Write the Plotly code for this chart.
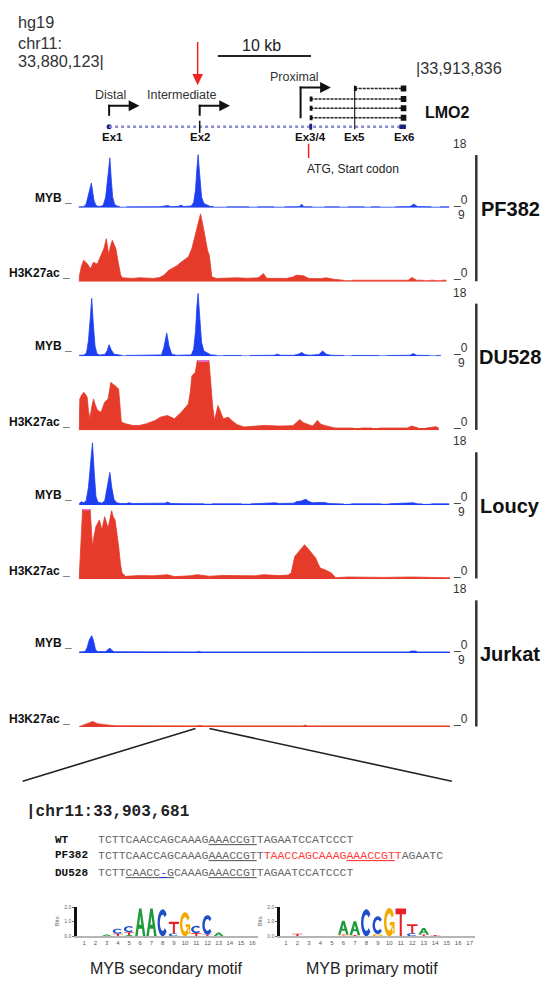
import math
import plotly.graph_objects as go

W, H = 547, 981
SANS = "Liberation Sans, Arial, sans-serif"
MONO = "Liberation Mono, Courier New, monospace"

# ---------------- DATA ----------------
REGION_START = 33880123
REGION_END = 33913836
VIEW_KB = [-2.52, 37.39]          # kb relative to REGION_START

exon_names = ["Ex1", "Ex2", "Ex3/4", "Ex5", "Ex6"]
exon_kb = [0.77, 10.5, 22.4, 27.15, 32.5]
promoter_names = ["Distal", "Intermediate", "Proximal"]
promoter_kb = [0.77, 10.5, 21.34]
promoter_label_kb = [0.9, 8.56, 20.73]
transcript_start_kb = [27.15, 22.4, 22.4, 22.4]
transcript_end_kb = 32.6
red_arrow_kb = 10.28
atg_kb = 22.2
scale_bar_kb = [12.45, 22.45]
zoom_region_kb = [10.05, 11.54]

cell_lines = ["PF382", "DU528", "Loucy", "Jurkat"]
MYB_MAX = 18
H3_MAX = 9

PF382_MYB = [(-2.50, 0.25), (-1.95, 0.3), (-1.70, 1.0), (-1.45, 3.5), (-1.25, 6.0), (-1.14, 7.0), (-1.0, 4.5),
             (-0.85, 2.0), (-0.65, 0.7), (-0.45, 0.4), (-0.1, 0.4), (0.15, 0.8), (0.40, 3.0), (0.62, 8.5),
             (0.85, 14.1), (1.0, 8.0), (1.15, 3.0), (1.35, 1.0), (1.6, 0.5), (1.95, 0.3), (2.2, None),
             (2.65, 0.25), (4.5, 0.25), (6.2, 0.3), (7.1, 0.6), (7.4, 0.3), (8.2, 0.4), (8.5, 0.7), (8.8, 0.35),
             (9.6, 0.5), (9.85, 1.5), (10.05, 5.0), (10.2, 11.0), (10.33, 15.0), (10.48, 10.0), (10.7, 3.0),
             (10.95, 1.2), (11.3, 0.7), (11.6, 0.4), (12.0, 0.3), (12.3, None), (13.4, 0.25), (15.8, 0.25),
             (16.2, None), (16.7, 0.25), (18.5, 0.25), (18.8, None), (19.6, 0.25), (21.2, 0.3), (21.45, 1.0),
             (21.7, 0.3), (22.6, 0.25), (22.9, None), (23.9, 0.25), (25.5, 0.25), (25.8, None), (26.4, 0.25),
             (28.2, 0.25), (28.5, None), (28.9, 0.25), (29.9, 0.25), (30.2, None), (31.5, 0.25), (33.1, 0.35),
             (33.5, 1.0), (33.9, 0.35), (35.4, 0.25), (35.7, None), (36.3, 0.25), (37.3, 0.25)]

PF382_H3K27AC = [(-2.45, 0.0), (-2.41, 0.85), (-2.2, 2.0), (-1.96, 2.77), (-1.75, 2.5), (-1.59, 2.34), (-1.35, 1.9),
                 (-1.21, 1.70), (-1.0, 2.3), (-0.84, 2.55), (-0.65, 2.3), (-0.46, 2.34), (-0.25, 3.0), (-0.09, 3.40),
                 (0.21, 4.26), (0.47, 5.53), (0.6, 4.2), (0.73, 3.40), (0.9, 4.5), (1.11, 5.32), (1.3, 4.8),
                 (1.49, 4.26), (1.7, 2.8), (1.86, 1.70), (2.0, 0.9), (2.16, 0.51), (2.6, 0.45), (3.29, 0.43),
                 (4.03, 0.51), (4.8, 0.45), (5.53, 0.43), (6.2, 0.55), (6.66, 0.85), (7.2, 1.49), (7.78, 1.91),
                 (8.1, 2.1), (8.53, 2.55), (9.0, 2.9), (9.28, 3.19), (9.66, 4.26), (10.03, 5.96), (10.33, 7.23),
                 (10.59, 8.72), (10.78, 7.66), (10.95, 6.5), (11.15, 5.11), (11.35, 4.0), (11.53, 3.40),
                 (11.7, 1.5), (11.8, 0.64), (12.28, 0.43), (13.5, 0.5), (14.53, 0.51), (15.5, 0.45), (16.78, 0.51),
                 (17.1, 0.8), (17.34, 1.06), (17.7, 0.45), (19.8, 0.43), (20.5, 0.6), (20.9, 0.85), (21.3, 0.8),
                 (21.65, 0.77), (22.21, 0.43), (23.5, 0.4), (24.08, 0.51), (25.02, 0.3), (25.96, 0.2), (26.2, None),
                 (26.9, 0.2), (32.9, 0.2), (33.3, 0.55), (33.8, 0.2), (34.5, 0.2), (34.8, None), (35.3, 0.2),
                 (35.7, 0.2), (35.9, None), (36.5, 0.2), (37.0, 0.2)]

DU528_MYB = [(-2.45, 0.3), (-1.9, 0.35), (-1.66, 1.0), (-1.45, 4.5), (-1.25, 11.0), (-1.10, 16.4), (-0.95, 10.0),
             (-0.75, 3.0), (-0.55, 0.8), (-0.3, 0.4), (0.3, 0.5), (0.55, 1.5), (0.77, 3.3), (1.0, 1.8), (1.3, 0.6),
             (1.7, 0.35), (2.1, 0.3), (2.3, None), (2.6, 0.25), (5.5, 0.25), (6.4, 0.4), (6.65, 2.5), (6.96, 6.6),
             (7.2, 3.0), (7.5, 0.6), (8.0, 0.3), (9.6, 0.4), (9.85, 2.0), (10.05, 7.0), (10.2, 14.0),
             (10.33, 17.8), (10.48, 12.0), (10.7, 4.0), (10.95, 1.5), (11.34, 0.8), (11.7, 0.4), (12.3, 0.3),
             (12.5, None), (13.0, 0.25), (15.0, 0.25), (15.3, None), (15.9, 0.25), (18.5, 0.3), (18.84, 0.6),
             (19.2, 0.3), (20.6, 0.3), (21.1, 0.6), (21.46, 1.1), (21.8, 0.5), (22.3, 0.3), (23.3, 0.5),
             (23.71, 1.5), (24.1, 0.6), (24.6, 0.3), (26.0, 0.25), (26.3, None), (26.8, 0.25), (29.8, 0.25),
             (30.1, None), (30.6, 0.25), (33.1, 0.3), (33.45, 0.8), (33.8, 0.3), (35.2, 0.25), (35.5, None),
             (35.9, 0.25), (36.4, 0.25)]

DU528_H3K27AC = [(-2.45, 0.0), (-2.38, 4.04), (-2.15, 4.6), (-1.96, 4.89), (-1.75, 4.6), (-1.59, 4.26), (-1.45, 2.5),
                 (-1.30, 1.49), (-1.1, 3.0), (-0.91, 4.04), (-0.7, 3.2), (-0.46, 2.55), (-0.09, 2.34), (0.29, 3.62),
                 (0.66, 4.04), (0.96, 6.17), (1.2, 5.9), (1.41, 5.74), (1.79, 5.32), (1.95, 2.5), (2.08, 1.06),
                 (2.53, 0.85), (3.29, 0.64), (4.03, 0.64), (4.78, 0.85), (5.72, 1.28), (6.28, 1.70), (7.03, 1.91),
                 (7.4, 1.7), (7.78, 1.49), (8.53, 2.34), (9.28, 3.40), (9.5, 5.0), (9.66, 7.02), (10.03, 7.45),
                 (10.33, 9.6), (11.45, 9.6), (11.72, 5.32), (11.9, 3.0), (12.09, 1.28), (12.3, 2.5), (12.47, 3.19),
                 (12.7, 2.5), (13.03, 1.49), (13.3, 1.6), (13.59, 1.70), (14.0, 1.2), (14.53, 0.72), (15.28, 0.43),
                 (17.5, 0.64), (19.02, 0.55), (20.5, 0.6), (20.9, 1.0), (21.27, 1.40), (21.6, 1.0), (22.0, 0.8),
                 (22.6, 0.55), (22.9, 0.9), (23.14, 1.28), (23.5, 0.8), (23.9, 0.64), (25.02, 0.3), (27.0, 0.3),
                 (27.3, None), (27.8, 0.3), (29.0, 0.3), (29.3, None), (29.8, 0.3), (32.8, 0.3), (33.26, 0.55),
                 (33.7, 0.35), (34.0, 0.3), (34.3, None), (34.8, 0.3), (35.89, 0.47), (36.18, 0.3)]

LOUCY_MYB = [(-2.45, 0.4), (-2.2, 0.9), (-1.95, 0.6), (-1.7, 1.2), (-1.45, 5.0), (-1.25, 12.0), (-1.02, 17.6),
             (-0.85, 10.0), (-0.65, 2.5), (-0.45, 0.8), (0.0, 0.5), (0.3, 1.2), (0.55, 5.0), (0.85, 9.2), (1.05, 5.0),
             (1.3, 1.5), (1.6, 0.6), (2.0, 0.4), (2.6, 0.4), (2.91, 0.6), (3.3, 0.4), (4.5, 0.4), (5.3, 0.5),
             (5.8, 0.3), (6.8, 0.5), (7.03, 0.8), (7.4, 0.4), (8.5, 0.35), (9.5, 0.3), (10.0, 0.45), (11.0, 0.3),
             (11.3, None), (11.8, 0.3), (13.0, 0.3), (14.2, 0.4), (15.0, 0.3), (15.5, None), (16.0, 0.3),
             (17.5, 0.35), (18.65, 0.6), (19.0, 0.4), (20.6, 0.5), (21.0, 1.0), (21.3, 1.0), (21.6, 1.3),
             (21.9, 1.6), (22.2, 1.0), (22.6, 0.6), (23.5, 0.7), (23.9, 0.7), (24.4, 0.4), (25.3, 0.3), (26.0, 0.25),
             (26.3, None), (26.8, 0.3), (30.0, 0.3), (30.3, None), (30.8, 0.3), (33.0, 0.4), (33.45, 0.6),
             (33.9, 0.3), (34.5, 0.25), (34.8, None), (35.4, 0.3), (37.3, 0.3)]

LOUCY_H3K27AC = [(-2.45, 0.0), (-2.35, 3.0), (-2.27, 5.0), (-2.05, 9.6), (-1.3, 9.6), (-1.15, 6.0), (-1.02, 4.17),
                 (-0.85, 5.5), (-0.65, 6.72), (-0.28, 7.57), (-0.01, 6.30), (0.29, 8.0), (0.5, 7.0), (0.66, 6.51),
                 (1.04, 8.77), (1.2, 8.0), (1.41, 7.57), (1.6, 6.0), (1.79, 4.17), (2.0, 1.8), (2.16, 0.77),
                 (2.53, 0.34), (4.03, 0.43), (5.5, 0.4), (7.03, 0.55), (7.78, 0.3), (9.5, 0.4), (10.22, 0.55),
                 (11.53, 0.35), (13.0, 0.45), (14.5, 0.4), (15.28, 0.43), (16.5, 0.4), (17.34, 0.55), (18.5, 0.45),
                 (19.02, 0.43), (20.0, 0.5), (20.33, 0.77), (20.71, 2.89), (21.0, 3.3), (21.27, 3.74), (21.76, 4.38),
                 (22.0, 4.1), (22.4, 3.53), (22.7, 3.1), (22.96, 2.68), (23.2, 2.0), (23.45, 1.40), (24.08, 1.11),
                 (24.65, 0.77), (25.1, 0.17), (26.52, 0.25), (30.26, 0.2), (33.26, 0.25), (37.39, 0.15)]

JURKAT_MYB = [(-2.45, 0.3), (-1.8, 0.4), (-1.6, 1.5), (-1.35, 3.8), (-1.10, 4.9), (-0.9, 3.5), (-0.7, 1.0),
              (-0.5, 0.4), (0.4, 0.4), (0.65, 1.0), (0.85, 1.4), (1.05, 0.8), (1.3, 0.35), (10.1, 0.3),
              (10.41, 0.45), (10.7, 0.3), (13.59, 0.35), (21.5, 0.3), (21.84, 0.5), (22.1, 0.3), (33.0, 0.3),
              (33.2, 0.55), (33.7, 0.55), (33.9, 0.3), (37.39, 0.3)]

JURKAT_H3K27AC = [(-2.45, 0.05), (-2.2, 0.15), (-1.77, 0.3), (-1.4, 0.51), (-1.02, 0.72), (-0.7, 0.55), (-0.46, 0.43),
                  (0.29, 0.3), (1.0, 0.22), (1.41, 0.17), (10.03, 0.15), (10.5, 0.21), (10.9, 0.15), (21.6, 0.15),
                  (21.84, 0.26), (22.1, 0.15), (33.0, 0.15), (33.26, 0.2), (33.5, 0.15), (37.39, 0.15)]

# sequences
seq_labels = ["WT", "PF382", "DU528"]
WT_SEQ = "TCTTCAACCAGCAAAGAAACCGTTAGAATCCATCCCT"
PF382_SEQ = "TCTTCAACCAGCAAAGAAACCGTT" + "TAACCAGCAAAGAAACCGTT" + "AGAATC"
DU528_SEQ = "TCTTCAACC-GCAAAGAAACCGTTAGAATCCATCCCT"
WT_UNDERLINE = [(16, 23)]
PF382_UNDERLINE = [(16, 23), (36, 43)]
PF382_INSERTION = (24, 44)
DU528_UNDERLINE = [(4, 11), (16, 23)]
DU528_DELETION = (9, 10)
SEQ_COORD = "|chr11:33,903,681"

# motif logos: stacks bottom -> top (letter, bits)
SECONDARY_MOTIF = [[], [], [("A", 0.12)], [("T", 0.18), ("C", 0.34)], [("A", 0.08), ("T", 0.2), ("C", 0.42)],
                   [("A", 1.9)], [("A", 1.9)], [("C", 1.85)], [("C", 0.2), ("T", 0.8)], [("G", 1.65)],
                   [("T", 0.22), ("C", 0.5)], [("T", 0.1), ("C", 1.35)], [("A", 0.25)], [], [], []]
PRIMARY_MOTIF = [[], [("T", 0.18)], [], [], [], [("G", 0.06), ("T", 0.06), ("A", 0.95)], [("T", 0.08), ("A", 0.95)],
                 [("C", 1.85)], [("G", 0.15), ("C", 1.22)], [("G", 1.95)], [("T", 1.9)], [("C", 0.22), ("T", 0.6)],
                 [("T", 0.12), ("A", 0.45)], [("T", 0.08)], [], [], []]
motif_titles = ["MYB secondary motif", "MYB primary motif"]

# ---------------- STYLE / LAYOUT ----------------
MYB_COLOR = "#1d3ff2"
H3_COLOR = "#e63a2a"
LOGO_COLORS = {"A": "#1f9a3a", "C": "#1f4fc8", "G": "#f2a900", "T": "#e8202a"}
TRACK_L, TRACK_R = 78.5, 450.0
block_top = [142, 291.5, 441, 590]


def px(x):
    return x / W


def py(y):
    return 1 - y / H


def kb2px(kb):
    return TRACK_L + (kb - VIEW_KB[0]) / (VIEW_KB[1] - VIEW_KB[0]) * (TRACK_R - TRACK_L)


def axname(i, letter):
    return letter if i == 1 else f"{letter}{i}"


fig = go.Figure()
layout = dict(width=W, height=H, margin=dict(l=0, r=0, t=0, b=0), paper_bgcolor="white",
              plot_bgcolor="rgba(0,0,0,0)", showlegend=False)
shapes, annotations = [], []


def ann(text, x, y, size=12, color="#333", xanchor="center", yanchor="middle", family=SANS,
        xref="paper", yref="paper", **kw):
    annotations.append(dict(text=text, x=x, y=y, xref=xref, yref=yref, showarrow=False,
                            xanchor=xanchor, yanchor=yanchor, font=dict(size=size, color=color, family=family), **kw))


# ---- tracks ----
tracks = [(PF382_MYB, PF382_H3K27AC), (DU528_MYB, DU528_H3K27AC), (LOUCY_MYB, LOUCY_H3K27AC),
          (JURKAT_MYB, JURKAT_H3K27AC)]
ax = 0
for bi, (cell, (myb, h3)) in enumerate(zip(cell_lines, tracks)):
    T = block_top[bi]
    for pts, vmax, color, (r0, r1) in [(myb, MYB_MAX, MYB_COLOR, (T, T + 64)),
                                       (h3, H3_MAX, H3_COLOR, (T + 68, T + 138.5))]:
        ax += 1
        xa, ya = axname(ax, "x"), axname(ax, "y")
        xs = [p[0] for p in pts]
        ys = [p[1] for p in pts]
        fig.add_trace(go.Scatter(x=xs, y=ys, xaxis=xa, yaxis=ya, mode="lines", fill="tozeroy",
                                 line=dict(color=color, width=0.8), fillcolor=color, connectgaps=False,
                                 hoverinfo="skip"))
        # clipped-value indicator
        run = []
        for x, y in pts + [(None, None)]:
            if y is not None and y > vmax:
                run.append(x)
            else:
                if run:
                    fig.add_trace(go.Scatter(x=[run[0], run[-1]], y=[vmax * 0.99, vmax * 0.99], xaxis=xa, yaxis=ya,
                                             mode="lines", line=dict(color="#e070e0", width=2), hoverinfo="skip"))
                run = []
        layout["xaxis" + ("" if ax == 1 else str(ax))] = dict(domain=[px(TRACK_L), px(TRACK_R)], range=VIEW_KB,
                                                               visible=False, fixedrange=True, anchor=ya)
        layout["yaxis" + ("" if ax == 1 else str(ax))] = dict(domain=[py(r1), py(r0)], range=[0, vmax],
                                                               visible=False, fixedrange=True, anchor=xa)
    # labels
    ann("<b>MYB _</b>", px(73.5), py(T + 54), size=12, color="#111", xanchor="right")
    ann("<b>H3K27ac _</b>", px(72), py(T + 130), size=12, color="#111", xanchor="right")
    ann(str(MYB_MAX), px(460), py(T), size=12)
    ann("_0", px(451), py(T + 56), size=12, xanchor="left")
    ann(str(H3_MAX), px(461), py(T + 71), size=12)
    ann("_0", px(451), py(T + 130), size=12, xanchor="left")
    shapes.append(dict(type="line", xref="paper", yref="paper", x0=px(476.3), x1=px(476.3), y0=py(T + 11),
                       y1=py(T + 138), line=dict(color="#333", width=2.5)))
    ann(f"<b>{cell}</b>", px(510), py(T + 65), size=20, color="#111")

# ---- gene model axis ----
G = "9"
fig.add_trace(go.Scatter(x=[exon_kb[0]], y=[124.5], xaxis="x" + G, yaxis="y" + G, mode="markers",
                         marker=dict(size=5, color="#1f1f80"), hoverinfo="skip"))
layout["xaxis" + G] = dict(domain=[px(TRACK_L), px(TRACK_R)], range=VIEW_KB, visible=False, fixedrange=True,
                           anchor="y" + G)
layout["yaxis" + G] = dict(domain=[py(175), py(30)], range=[175, 30], visible=False, fixedrange=True,
                           anchor="x" + G)


def gl(x0, y0, x1, y1, color="#111", width=2, dash=None):
    d = dict(color=color, width=width)
    if dash:
        d["dash"] = dash
    shapes.append(dict(type="line", xref="x" + G, yref="y" + G, x0=x0, y0=y0, x1=x1, y1=y1, line=d))


def grect(x0, y0, x1, y1, color):
    shapes.append(dict(type="rect", xref="x" + G, yref="y" + G, x0=x0, y0=y0, x1=x1, y1=y1,
                       fillcolor=color, line=dict(width=0)))


def gpath(points, color):
    p = "M " + " L ".join(f"{x:.4f},{y:.4f}" for x, y in points) + " Z"
    shapes.append(dict(type="path", xref="x" + G, yref="y" + G, path=p, fillcolor=color, line=dict(width=0)))


GENE_ROW = 124.5
gl(exon_kb[0], GENE_ROW, exon_kb[-1] + 0.15, GENE_ROW, color="#8a8ad4", width=2.5, dash="dot")
gl(exon_kb[1], 118.5, exon_kb[1], 130.5, color="#111", width=1.5)
grect(exon_kb[2] - 0.12, 121.5, exon_kb[2] + 0.18, 127.5, "#1f1f80")
gl(exon_kb[3], 83, exon_kb[3], 127, color="#222", width=1.2)
grect(exon_kb[4] - 0.55, 122.2, exon_kb[4] + 0.15, 126.8, "#1f1f80")
for name, kb in zip(exon_names, exon_kb):
    ann(f"<b>{name}</b>", kb + (0.35 if name == "Ex1" else 0), 134.5, size=11.5, color="#111",
        xref="x" + G, yref="y" + G)

transcript_rows = [86, 96.5, 106, 115.5]
for s, r in zip(transcript_start_kb, transcript_rows):
    gl(s, r, transcript_end_kb, r, color="#222", width=1.5, dash="3px,1px")
    grect(transcript_end_kb - 0.5, r - 3, transcript_end_kb + 0.1, r + 3, "#111")
    grect(s - 0.08, r - 2.5, s + 0.22, r + 2.5, "#111")

promoter_base = [113.5, 113.5, 116]
promoter_top = [103.3, 103.3, 85]
for name, kb, lkb, b, t in zip(promoter_names, promoter_kb, promoter_label_kb, promoter_base, promoter_top):
    gl(kb, b, kb, t - 1, width=2)
    gl(kb - 0.1, t, kb + 2.2, t, width=2)
    gpath([(kb + 2.1, t - 5.5), (kb + 2.1, t + 5.5), (kb + 3.25, t)], "#111")
    ann(name, lkb, t - 10.5, size=12.5, color="#333", xref="x" + G, yref="y" + G)

ann("<b>LMO2</b>", px(423), py(110), size=16, color="#111", xanchor="left")

# red arrow, ATG, scale bar, coordinates
gl(red_arrow_kb, 39.3, red_arrow_kb, 72, color="#ee2222", width=1.5)
gpath([(red_arrow_kb - 0.57, 71.5), (red_arrow_kb + 0.57, 71.5), (red_arrow_kb, 82.7)], "#ee2222")
gl(atg_kb, 141.7, atg_kb, 156, color="#ee2222", width=1.5)
ann("ATG, Start codon", atg_kb - 0.35, 166.7, size=12, color="#222", xanchor="left", xref="x" + G, yref="y" + G)
gl(scale_bar_kb[0], 53.3, scale_bar_kb[1], 53.3, color="#222", width=2)
ann("10 kb", (scale_bar_kb[0] + scale_bar_kb[1]) / 2 - 0.3, 42.7, size=16, color="#222", xref="x" + G, yref="y" + G)
ann("hg19", px(16), py(19), size=16.3, xanchor="left")
ann("chr11:", px(16), py(40), size=16.3, xanchor="left")
ann(f"{REGION_START:,}|", px(16), py(58.5), size=16.3, xanchor="left")
ann(f"|{REGION_END:,}", (REGION_END - REGION_START) / 1000 - 0.22, 65, size=16.3, xanchor="left",
    xref="x" + G, yref="y" + G)

# zoom-in lines
for kb, bx in zip(zoom_region_kb, [22.7, 451.8]):
    shapes.append(dict(type="line", xref="paper", yref="paper", x0=px(kb2px(kb)), y0=py(730), x1=px(bx), y1=py(783),
                       line=dict(color="#222", width=1.6)))


# ---- sequences ----
def seq_html(seq, underlines, color_range=None, color=None):
    runs = []
    for i, ch in enumerate(seq):
        u = any(a <= i < b for a, b in underlines)
        c = color if (color_range and color_range[0] <= i < color_range[1]) else None
        if runs and runs[-1][0] == (u, c):
            runs[-1][1] += ch
        else:
            runs.append([(u, c), ch])
    out = ""
    for (u, c), txt in runs:
        t = f"<u>{txt}</u>" if u else txt
        if c:
            t = f"<span style='color:{c}'>{t}</span>"
        out += t
    return out


ann(f"<b>{SEQ_COORD}</b>", px(24), py(814), size=16, color="#222", xanchor="left", family=MONO)
seq_rows = [seq_html(WT_SEQ, WT_UNDERLINE),
            seq_html(PF382_SEQ, PF382_UNDERLINE, PF382_INSERTION, "#ff3b3b"),
            seq_html(DU528_SEQ, DU528_UNDERLINE, DU528_DELETION, "#2233ee")]
for lab, html, row in zip(seq_labels, seq_rows, [841.7, 857.7, 875]):
    ann(f"<b>{lab}</b>", px(53), py(row), size=11, color="#111", xanchor="left", family=MONO)
    ann(html, px(96), py(row), size=11.5, color="#666", xanchor="left", family=MONO)


# ---- motif logos ----
def arc(cx, cy, rx, ry, a0, a1, n=22):
    return [(cx + rx * math.cos(math.radians(a0 + (a1 - a0) * i / n)),
             cy + ry * math.sin(math.radians(a0 + (a1 - a0) * i / n))) for i in range(n + 1)]


GLYPHS = {
    "A": [[(0, 0), (0.38, 1), (0.62, 1), (1, 0), (0.76, 0), (0.67, 0.27), (0.33, 0.27), (0.24, 0)],
          [(0.40, 0.42), (0.60, 0.42), (0.5, 0.74)]],
    "T": [[(0, 1), (1, 1), (1, 0.8), (0.6, 0.8), (0.6, 0), (0.4, 0), (0.4, 0.8), (0, 0.8)]],
    "C": [arc(0.5, 0.5, 0.5, 0.5, 40, 320) + arc(0.5, 0.5, 0.27, 0.3, 320, 40)],
    "G": [arc(0.5, 0.5, 0.5, 0.5, 30, 330) + arc(0.5, 0.5, 0.27, 0.3, 330, 30),
          [(0.55, 0.38), (0.8, 0.38), (0.8, 0.1), (1.0, 0.1), (1.0, 0.5), (0.55, 0.5)]],
}

logo_specs = [(SECONDARY_MOTIF, "10", 77.0, 11.2, 0.35), (PRIMARY_MOTIF, "11", 280.0, 11.48, 0.48)]
for (stacks, a, left, step, r0), title, tcx, bits_x in zip(logo_specs, motif_titles, [166, 371.6], [57, 260]):
    n = len(stacks)
    r1 = n + 0.5
    right = left + (r1 - r0) * step
    fig.add_trace(go.Scatter(x=[1], y=[0], xaxis="x" + a, yaxis="y" + a, mode="markers",
                             marker=dict(opacity=0), hoverinfo="skip"))
    layout["xaxis" + a] = dict(domain=[px(left), px(right)], range=[r0, r1], tickvals=list(range(1, n + 1)),
                               showline=True, linecolor="#b5b5b5", linewidth=1.5, ticks="", showgrid=False,
                               zeroline=False, tickfont=dict(size=6, color="#555", family=SANS), anchor="y" + a,
                               fixedrange=True)
    layout["yaxis" + a] = dict(domain=[py(939), py(909.7)], range=[0, 2], tickvals=[0, 1, 2],
                               ticktext=["0.0", "1.0", "2.0"], ticks="outside", ticklen=2, tickcolor="#666",
                               showline=True, linewidth=2.5, linecolor="#111", showgrid=False, zeroline=False,
                               tickfont=dict(size=5, color="#666", family=SANS), anchor="x" + a, fixedrange=True)
    for pos, stack in enumerate(stacks, start=1):
        y0 = 0.0
        for letter, h in stack:
            x0, x1 = pos - 0.46, pos + 0.46
            path = ""
            for poly in GLYPHS[letter]:
                path += "M " + " L ".join(f"{x0 + u * (x1 - x0):.4f},{y0 + v * h:.4f}" for u, v in poly) + " Z "
            shapes.append(dict(type="path", xref="x" + a, yref="y" + a, path=path,
                               fillcolor=LOGO_COLORS[letter], line=dict(width=0)))
            y0 += h
    ann("Bits", px(bits_x), py(924), size=6, color="#666", textangle=-90)
    ann(title, px(tcx), py(971.7), size=16, color="#222")

layout["shapes"] = shapes
layout["annotations"] = annotations
fig.update_layout(**layout)
fig.write_html("out.html", config={"displayModeBar": False},
               post_script="document.body.style.margin='0';document.body.style.overflow='hidden';"
                           "document.documentElement.style.overflow='hidden';")
